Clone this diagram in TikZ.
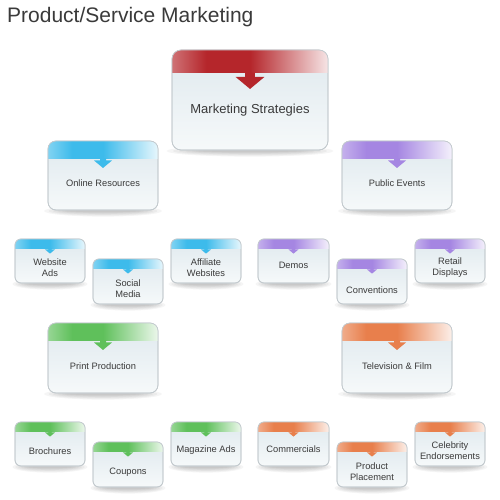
\documentclass[tikz,border=0pt]{standalone}
\usepackage{fontspec}
\setmainfont{Liberation Sans}
\pgfdeclarelayer{bg}
\pgfsetlayers{bg,main}
\definecolor{cred}{HTML}{B5262B}
\definecolor{cblue}{HTML}{3DBBEB}
\definecolor{cpurp}{HTML}{A586E2}
\definecolor{cgreen}{HTML}{5FC05B}
\definecolor{corange}{HTML}{E87F4C}
\definecolor{bodytop}{HTML}{DFE9EE}
\definecolor{bodybot}{HTML}{F6F9FA}
\definecolor{boxline}{HTML}{C3CACE}
\definecolor{txt}{HTML}{3A3A3A}
\tikzset{
  boxbody/.style={draw=boxline, line width=0.7pt, top color=bodytop, bottom color=bodybot, inner sep=0pt, outer sep=0pt},
  lbl/.style={font=\fontsize{9.3}{11}\selectfont, text=txt, align=center, inner sep=0pt},
  biglbl/.style={font=\fontsize{13}{15}\selectfont, text=txt, align=center, inner sep=0pt},
  ttl/.style={font=\fontsize{21}{24}\selectfont, text=txt, inner sep=0pt, anchor=base west}
}
\newcommand\hdrshading[1]{%
  \pgfdeclarehorizontalshading{hdr#1}{100bp}{color(0bp)=(#1!65!white); color(25bp)=(#1!65!white);
    color(36bp)=(#1); color(50bp)=(#1); color(75bp)=(#1!12!white); color(100bp)=(#1!12!white)}}
\hdrshading{cred}\hdrshading{cblue}\hdrshading{cpurp}\hdrshading{cgreen}\hdrshading{corange}
% #1 name, #2 left, #3 top, #4 width, #5 height, #6 colour, #7 header height, #8 arrow size, #9 radius
\newcommand\mkbox[9]{%
  \pgfmathsetmacro\bcx{#2+#4/2}%
  \pgfmathsetmacro\bhy{#3+#7}%
  \pgfmathsetmacro\bby{#3+#5+1}%
  \begin{pgfonlayer}{bg}
    \foreach \k in {1,...,6}{
      \fill[black, opacity=0.04] (\bcx,\bby) ellipse [x radius={#4/2*(1.15-0.08*\k)*1pt}, y radius={(6.5-0.9*\k)*1pt}];
    }
  \end{pgfonlayer}
  \node[boxbody, rounded corners=#9pt, minimum width=#4pt, minimum height=#5pt, anchor=north west] (#1) at (#2,#3) {};
  \begin{scope}
    \clip[rounded corners=#9pt] (#1.north west) rectangle (#1.south east);
    \shade[shading=hdr#6] (#1.north west) rectangle ([yshift=-#7pt]#1.north east);
  \end{scope}
  \draw[boxline, line width=0.7pt, rounded corners=#9pt] (#1.north west) rectangle (#1.south east);
  \fill[#6] ({\bcx-0.4*#8},\bhy) -- ({\bcx+0.4*#8},\bhy) -- ({\bcx+0.4*#8},{\bhy+0.33*#8}) -- ({\bcx+1.2*#8},{\bhy+0.33*#8})
     -- (\bcx,{\bhy+1.33*#8}) -- ({\bcx-1.2*#8},{\bhy+0.33*#8}) -- ({\bcx-0.4*#8},{\bhy+0.33*#8}) -- cycle;
}
\begin{document}
\begin{tikzpicture}[x=1pt, y=-1pt]
\useasboundingbox (0,0) rectangle (500,500);
\node[ttl] (title) at (7,23) {Product/Service Marketing};

% top
\mkbox{ms}{172}{50}{156}{100}{cred}{23}{12}{9}
\node[biglbl] (ms-t) at (250,110) {Marketing Strategies};

% medium
\mkbox{or}{48}{141}{110}{69}{cblue}{17}{7.5}{8}
\node[lbl] (or-t) at (103,183) {Online Resources};
\mkbox{pe}{342}{141}{110}{69}{cpurp}{17}{7.5}{8}
\node[lbl] (pe-t) at (397,183) {Public Events};
\mkbox{pp}{48}{323}{110}{70}{cgreen}{17}{7.5}{8}
\node[lbl] (pp-t) at (103,366) {Print Production};
\mkbox{tf}{342}{323}{110}{70}{corange}{17}{7.5}{8}
\node[lbl] (tf-t) at (397,366) {Television \& Film};

% second row
\mkbox{wa}{15}{239}{70}{44}{cblue}{9}{4.2}{6}
\node[lbl] (wa-t) at (50,268) {Website\\Ads};
\mkbox{sm}{93}{259}{70}{45}{cblue}{9}{4.2}{6}
\node[lbl] (sm-t) at (128,289) {Social\\Media};
\mkbox{aw}{171}{239}{70}{44}{cblue}{9}{4.2}{6}
\node[lbl] (aw-t) at (206,268) {Affiliate\\Websites};
\mkbox{de}{258}{239}{71}{44}{cpurp}{9}{4.2}{6}
\node[lbl] (de-t) at (293.5,265) {Demos};
\mkbox{co}{337}{259}{70}{45}{cpurp}{9}{4.2}{6}
\node[lbl] (co-t) at (372,290) {Conventions};
\mkbox{rd}{415}{239}{70}{44}{cpurp}{9}{4.2}{6}
\node[lbl] (rd-t) at (450,268) {Retail\\Displays};

% bottom row
\mkbox{br}{15}{422}{70}{44}{cgreen}{9}{4.2}{6}
\node[lbl] (br-t) at (50,451) {Brochures};
\mkbox{cp}{93}{442}{70}{45}{cgreen}{9}{4.2}{6}
\node[lbl] (cp-t) at (128,472) {Coupons};
\mkbox{ma}{171}{422}{70}{44}{cgreen}{9}{4.2}{6}
\node[lbl] (ma-t) at (206,450) {Magazine Ads};
\mkbox{cm}{258}{422}{71}{44}{corange}{9}{4.2}{6}
\node[lbl] (cm-t) at (293.5,449) {Commercials};
\mkbox{pl}{337}{442}{70}{45}{corange}{9}{4.2}{6}
\node[lbl] (pl-t) at (372,472) {Product\\Placement};
\mkbox{ce}{415}{422}{70}{44}{corange}{9}{4.2}{6}
\node[lbl] (ce-t) at (450,451) {Celebrity\\Endorsements};
\end{tikzpicture}
\end{document}
